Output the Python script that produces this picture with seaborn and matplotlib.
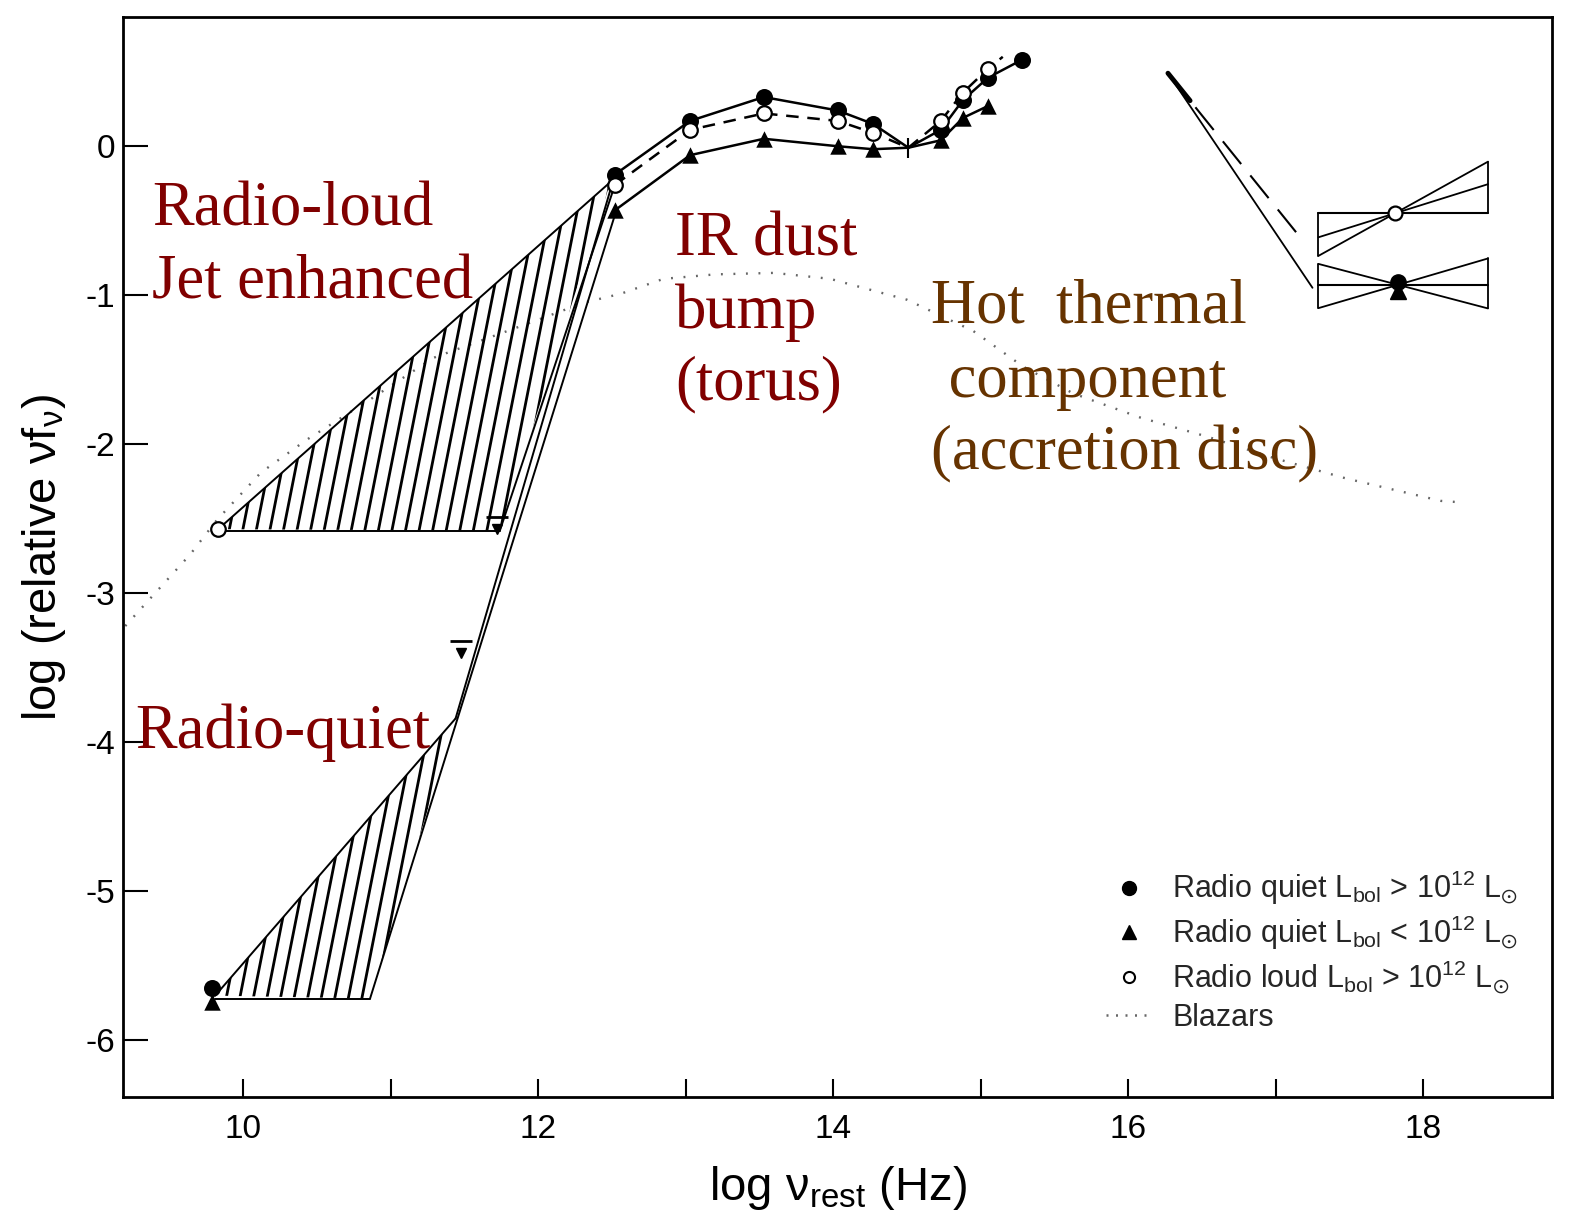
import numpy as np
import pandas as pd
import matplotlib
matplotlib.use("Agg")
import matplotlib.pyplot as plt
from matplotlib.patches import Polygon
from matplotlib.collections import LineCollection
from matplotlib.lines import Line2D
from matplotlib.ticker import FixedLocator
import seaborn as sns

# ---------------- data (log nu_rest [Hz], log relative nu f_nu) ----------------
# IR -> UV mean SEDs
nu_ir = [12.52, 13.03, 13.53, 14.03, 14.27, 14.51, 14.73, 14.88, 15.05]
rq_bright = [-0.19, 0.17, 0.33, 0.24, 0.15, -0.01, 0.11, 0.31, 0.46]
rq_faint = [-0.43, -0.06, 0.05, 0.00, -0.02, -0.01, 0.04, 0.19, 0.27]
rl_bright = [-0.26, 0.11, 0.22, 0.17, 0.09, -0.01, 0.17, 0.36, 0.52]
uv_last_nu = 15.28
uv_last_rq = 0.58
rl_dash_end = (15.15, 0.60)
norm_nu, norm_val = 14.51, -0.01

# radio points
radio_nu = 9.79
radio_rq_bright = -5.65
radio_rq_faint = -5.74
radio_rl_nu = 9.83
radio_rl = -2.57

# envelope corners of the radio -> far-IR ranges
rq_env_base_nu = 10.86
rq_env_base = -5.72
rq_env_apex_nu = 11.44
rq_env_apex = -3.84
rl_env_base_nu = 11.74
rl_env_base = -2.58

# upper limits
lim_nu = [11.72, 11.48]
lim_val = [-2.49, -3.32]

# blazar average SED
blz_nu = [9.20, 9.64, 9.82, 10.12, 10.43, 10.86, 11.29, 11.93, 12.31, 12.56, 12.85,
          13.20, 13.60, 13.98, 14.09, 14.50, 14.95, 15.29, 15.63, 16.08, 16.54,
          16.98, 17.48, 18.12, 18.26]
blz_val = [-3.22, -2.74, -2.51, -2.19, -1.97, -1.70, -1.42, -1.19, -1.05, -0.99, -0.89,
           -0.86, -0.85, -0.89, -0.92, -1.03, -1.24, -1.48, -1.66, -1.82, -1.95,
           -2.09, -2.23, -2.38, -2.39]

# soft X-ray extrapolation lines
sx_start = (16.27, 0.49)
sx_rq_end = (17.25, -0.95)
sx_rl_end = (17.19, -0.64)

# hard X-ray slope ranges (bow ties)
xr_lo, xr_hi = 17.29, 18.44
xr_rl_c = (17.81, -0.45)
xr_rl_slopes = [0.55, 0.31]
xr_rq_c = (17.83, -0.93)
xr_rq_slopes = [-0.26, 0.29]

xticks = list(range(10, 19))
xticklabels = [str(t) if t % 2 == 0 else "" for t in xticks]
yticks = [0, -1, -2, -3, -4, -5, -6]
yticklabels = ["0", "-1", "-2", "-3", "-4", "-5", "-6"]

legend_labels = [r"Radio quiet L$_{\rm bol}$ > 10$^{12}$ L$_{\odot}$",
                 r"Radio quiet L$_{\rm bol}$ < 10$^{12}$ L$_{\odot}$",
                 r"Radio loud L$_{\rm bol}$ > 10$^{12}$ L$_{\odot}$",
                 "Blazars"]

# ---------------- style ----------------
sns.set_theme(style="ticks")
plt.rcParams['font.family'] = ['Liberation Sans', 'DejaVu Sans']
plt.rcParams['mathtext.fontset'] = 'custom'
plt.rcParams['mathtext.rm'] = 'Liberation Sans'
plt.rcParams['mathtext.it'] = 'Liberation Sans:italic'
plt.rcParams['mathtext.default'] = 'regular'

RED = '#800000'
BROWN = '#663300'
INK = 'black'

fig = plt.figure(figsize=(15.79, 12.27), dpi=100)
ax = fig.add_axes([0.078, 0.106, 0.905, 0.880])
ax.set_xlim(9.186, 18.875)
ax.set_ylim(-6.38, 0.866)

# ---------------- blazars ----------------
sns.lineplot(x=blz_nu, y=blz_val, sort=False, estimator=None, ax=ax,
             color='#666666', lw=1.7, linestyle=(0, (0.8, 4.5)))

# ---------------- hatched radio ranges ----------------
def hatch(verts, step=0.092, slope=5.0, lw=2.0):
    poly = Polygon(verts, closed=True, facecolor='none', edgecolor='none')
    ax.add_patch(poly)
    xs = [v[0] for v in verts]
    ys = [v[1] for v in verts]
    y0, y1 = min(ys) - 0.05, max(ys) + 0.05
    run = (y1 - y0) / slope
    starts = np.arange(min(xs) - run, max(xs) + step, step)
    segs = [[(s, y0), (s + run, y1)] for s in starts]
    lc = LineCollection(segs, colors=INK, linewidths=lw)
    ax.add_collection(lc)
    lc.set_clip_path(poly)

rl_poly = [(radio_rl_nu, radio_rl), (nu_ir[0] - 0.03, rl_bright[0] + 0.02),
           (rl_env_base_nu, rl_env_base)]
hatch(rl_poly)
rq_poly = [(radio_nu + 0.02, radio_rq_bright - 0.05), (rq_env_apex_nu, rq_env_apex),
           (rq_env_base_nu, rq_env_base)]
hatch(rq_poly)

edge = dict(color=INK, lw=1.4)
# radio-loud envelope
sns.lineplot(x=[radio_rl_nu, nu_ir[0] - 0.03], y=[radio_rl, rl_bright[0] + 0.02],
             sort=False, estimator=None, ax=ax, **edge)
sns.lineplot(x=[radio_rl_nu, rl_env_base_nu], y=[radio_rl - 0.01, rl_env_base],
             sort=False, estimator=None, ax=ax, **edge)
sns.lineplot(x=[rl_env_base_nu, nu_ir[0]], y=[rl_env_base, rl_bright[0]],
             sort=False, estimator=None, ax=ax, **edge)
# radio-quiet envelope
sns.lineplot(x=[radio_nu + 0.02, rq_env_apex_nu], y=[radio_rq_bright - 0.05, rq_env_apex],
             sort=False, estimator=None, ax=ax, **edge)
sns.lineplot(x=[radio_nu + 0.02, rq_env_base_nu], y=[rq_env_base, rq_env_base],
             sort=False, estimator=None, ax=ax, **edge)
sns.lineplot(x=[rq_env_base_nu, nu_ir[0] + 0.01], y=[rq_env_base, rq_faint[0]],
             sort=False, estimator=None, ax=ax, **edge)
sns.lineplot(x=[rq_env_apex_nu, nu_ir[0]], y=[rq_env_apex, rq_bright[0]],
             sort=False, estimator=None, ax=ax, **edge)

# ---------------- IR-UV mean SEDs ----------------
sns.lineplot(x=nu_ir + [uv_last_nu], y=rq_bright + [uv_last_rq], sort=False,
             estimator=None, ax=ax, color=INK, lw=1.8)
sns.lineplot(x=nu_ir, y=rq_faint, sort=False, estimator=None, ax=ax, color=INK, lw=1.8)
sns.lineplot(x=nu_ir + [rl_dash_end[0]], y=rl_bright + [rl_dash_end[1]], sort=False,
             estimator=None, ax=ax, color=INK, lw=1.8, linestyle=(0, (5, 3.5)))

mk = [i for i in range(len(nu_ir)) if nu_ir[i] != norm_nu]
pts = pd.DataFrame({
    "nu": [nu_ir[i] for i in mk] + [uv_last_nu, radio_nu],
    "rq_b": [rq_bright[i] for i in mk] + [uv_last_rq, radio_rq_bright],
})
sns.scatterplot(data=pts, x="nu", y="rq_b", marker='o', s=150, color=INK,
                edgecolor=INK, linewidth=0, ax=ax, zorder=5)
sns.scatterplot(x=[nu_ir[i] for i in mk] + [radio_nu],
                y=[rq_faint[i] for i in mk] + [radio_rq_faint],
                marker='^', s=140, color=INK, edgecolor=INK, linewidth=0, ax=ax, zorder=5)
sns.scatterplot(x=[nu_ir[i] for i in mk] + [radio_rl_nu],
                y=[rl_bright[i] for i in mk] + [radio_rl],
                marker='o', s=110, facecolor='white', edgecolor=INK, linewidth=1.6,
                ax=ax, zorder=6)
ax.plot([norm_nu], [norm_val], marker='|', ms=14, mew=1.5, color=INK)

# upper limits
ax.plot(lim_nu, lim_val, ls='none', marker='_', ms=16, mew=2, color=INK)
ax.plot(lim_nu, [v - 0.08 for v in lim_val], ls='none', marker='v', ms=7, color=INK)

# ---------------- X-ray ----------------
sns.lineplot(x=[sx_start[0], sx_rq_end[0]], y=[sx_start[1], sx_rq_end[1]], sort=False,
             estimator=None, ax=ax, color=INK, lw=1.3)
sns.lineplot(x=[sx_start[0], sx_rl_end[0]], y=[sx_start[1], sx_rl_end[1]], sort=False,
             estimator=None, ax=ax, color=INK, lw=1.5, linestyle=(0, (14, 7)))
ax.plot([sx_start[0], sx_start[0] + 0.15],
        [sx_start[1], sx_start[1] + 0.15 * (sx_rl_end[1] - sx_start[1]) / (sx_rl_end[0] - sx_start[0])],
        color=INK, lw=3.5, solid_capstyle='round')

def line_at(c, s, x):
    return c[1] + s * (x - c[0])

# radio-loud bow tie
for s in xr_rl_slopes:
    ax.plot([xr_lo, xr_hi], [line_at(xr_rl_c, s, xr_lo), line_at(xr_rl_c, s, xr_hi)],
            color=INK, lw=1.3)
ax.plot([xr_lo, xr_hi], [xr_rl_c[1]] * 2, color=INK, lw=1.5)
s_max = max(xr_rl_slopes)
ax.plot([xr_lo, xr_lo], [xr_rl_c[1], line_at(xr_rl_c, s_max, xr_lo)], color=INK, lw=1.3)
ax.plot([xr_hi, xr_hi], [xr_rl_c[1], line_at(xr_rl_c, s_max, xr_hi)], color=INK, lw=1.3)
ax.plot([xr_rl_c[0]], [xr_rl_c[1]], marker='o', ms=10, mfc='white', mec=INK, mew=1.6, zorder=6)

# radio-quiet bow tie
for s in xr_rq_slopes:
    ax.plot([xr_lo, xr_hi], [line_at(xr_rq_c, s, xr_lo), line_at(xr_rq_c, s, xr_hi)],
            color=INK, lw=1.3)
ax.plot([xr_lo, xr_hi], [xr_rq_c[1]] * 2, color=INK, lw=1.5)
for xe in (xr_lo, xr_hi):
    ends = [line_at(xr_rq_c, s, xe) for s in xr_rq_slopes]
    ax.plot([xe, xe], [min(ends), max(ends)], color=INK, lw=1.3)
ax.plot([xr_rq_c[0]], [xr_rq_c[1] + 0.02], marker='o', ms=11, color=INK, zorder=6)
ax.plot([xr_rq_c[0]], [xr_rq_c[1] - 0.04], marker='^', ms=11, color=INK, zorder=6)

# ---------------- axes ----------------
for sp in ax.spines.values():
    sp.set_visible(True)
    sp.set_linewidth(2.0)
    sp.set_color(INK)
ax.xaxis.set_major_locator(FixedLocator(xticks))
ax.set_xticklabels(xticklabels)
ax.set_yticks(yticks)
ax.set_yticklabels(yticklabels)
ax.tick_params(axis='y', direction='in', length=18, width=1.5, labelsize=24, pad=6, colors=INK)
ax.tick_params(axis='x', direction='in', length=13, width=1.5, labelsize=24, pad=12, colors=INK)
ax.set_xlabel(r"log $\nu_{\rm rest}$ (Hz)", fontsize=34, labelpad=14, color=INK)
ax.set_ylabel(r"log (relative $\nu$f$_{\nu}$)", fontsize=34, labelpad=12, color=INK)

# ---------------- annotations ----------------
serif = ['Liberation Serif', 'DejaVu Serif']
ann = dict(fontsize=45, family=serif, va='baseline', ha='left')
ax.text(9.38, -0.53, "Radio-loud", color=RED, **ann)
ax.text(9.38, -1.02, "Jet enhanced", color=RED, **ann)
ax.text(12.93, -0.73, "IR dust", color=RED, **ann)
ax.text(12.93, -1.22, "bump", color=RED, **ann)
ax.text(12.93, -1.70, "(torus)", color=RED, **ann)
ax.text(9.27, -4.04, "Radio-quiet", color=RED, **ann)
ax.text(14.66, -1.18, "Hot  thermal", color=BROWN, **ann)
ax.text(14.68, -1.68, " component", color=BROWN, **ann)
ax.text(14.66, -2.17, "(accretion disc)", color=BROWN, **ann)

# ---------------- legend ----------------
handles = [
    Line2D([], [], ls='none', marker='o', ms=10, color=INK),
    Line2D([], [], ls='none', marker='^', ms=10, color=INK),
    Line2D([], [], ls='none', marker='o', ms=8, mfc='white', mec=INK, mew=1.5),
    Line2D([], [], ls=(0, (0.8, 3)), lw=1.8, color='#666666'),
]
ax.legend(handles, legend_labels, loc='upper left', bbox_to_anchor=(0.688, 0.211),
          frameon=False, fontsize=22, handlelength=1.5, handletextpad=0.65,
          labelspacing=0.22, borderpad=0, borderaxespad=0)

fig.savefig("out.png", dpi=100, facecolor='white')
